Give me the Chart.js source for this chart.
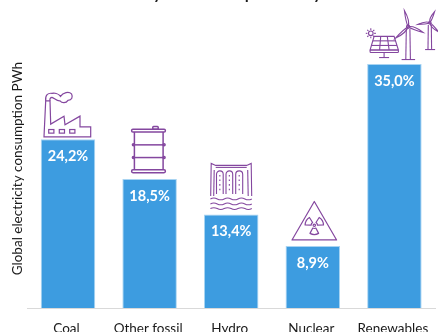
<!DOCTYPE html>
<html><head><meta charset="utf-8">
<style>html,body{margin:0;padding:0;background:#fff}#w{position:relative;width:438px;height:332px}</style>
<script src="https://cdn.jsdelivr.net/npm/chart.js@4"></script>
</head><body><div id="w"><canvas id="c" width="438" height="332"></canvas></div>
<script>
const categories = ["Coal","Other fossil","Hydro","Nuclear","Renewables"];
const shares = [24.2,18.5,13.4,8.9,35.0];
const shareLabels = ["24,2%","18,5%","13,4%","8,9%","35,0%"];
const yAxisTitle = "Global electricity consumption PWh";
const chartTitle = "Electricity consumption by source";

const PURPLE = "#84479f";
function poly(g,pts,close){g.beginPath();pts.forEach((p,i)=>i?g.lineTo(p[0],p[1]):g.moveTo(p[0],p[1]));if(close)g.closePath();g.stroke();}
function rrect(g,x,y,w,h,r){g.beginPath();g.roundRect(x,y,w,h,r);g.stroke();}
function blade(g,hx,hy,tx,ty,w){
  const dx=tx-hx,dy=ty-hy,l=Math.hypot(dx,dy),nx=-dy/l,ny=dx/l;
  const mx=hx+dx*.3,my=hy+dy*.3;
  g.beginPath();g.moveTo(hx,hy);
  g.quadraticCurveTo(mx+nx*w,my+ny*w,tx,ty);
  g.quadraticCurveTo(mx-nx*w*.35,my-ny*w*.35,hx,hy);
  g.stroke();
}
const icons = [
 {x0:68,y0:138.5,draw(g){
   poly(g,[[44,136],[45.7,100],[50,100],[50.7,123.3],[64,115.3],[65,124],[80,115.3],[80,126],[90.7,126],[90.7,136]],true);
   g.beginPath();g.moveTo(45.7,100);
   g.bezierCurveTo(45,94,48,92,52,92.5);g.bezierCurveTo(55,92,59,93,60.5,95.5);
   g.bezierCurveTo(63,91.5,69,90.5,71.5,93);g.bezierCurveTo(73,96,72,99.5,68,99.5);
   g.bezierCurveTo(66,102.5,62,102.5,60,100);g.bezierCurveTo(57,100.5,54,97,52,96.5);
   g.bezierCurveTo(50.5,96.5,49.5,98,50,100);g.stroke();
   [48.7,59.3,69.7].forEach(x=>g.strokeRect(x,128.7,5.2,3.6));
 }},
 {x0:149.5,y0:179.5,draw(g){
   g.lineWidth=1.5;
   rrect(g,131.5,129.8,33.8,2.6,1.3);
   rrect(g,131.5,170.2,33.8,3,1.4);
   rrect(g,152.7,127,5.4,2.8,.8);
   poly(g,[[134.3,132.4],[134.3,170.2]]);poly(g,[[163,132.4],[163,170.2]]);
   [145.3,158].forEach(y=>{poly(g,[[133,y],[164.3,y]]);
     g.beginPath();g.arc(133.3,y,1,0,7);g.stroke();g.beginPath();g.arc(164,y,1,0,7);g.stroke();});
 }},
 {x0:231.5,y0:214.7,draw(g){
   g.lineWidth=1.1;
   poly(g,[[211,196],[211.5,163.5],[216,165.5],[247,165.5],[251.5,163.5],[252,196]]);
   poly(g,[[216,167.5],[247,167.5]]);
   poly(g,[[214,196],[214.5,170]]);poly(g,[[248.5,196],[248,170]]);
   [[216.8,223.5],[226.3,233],[236,243]].forEach(([a,b])=>{
     const r=(b-a)/2;
     g.beginPath();g.moveTo(a,194);g.lineTo(a,171+r);g.arc(a+r,171+r,r,Math.PI,0);g.lineTo(b,194);g.stroke();
     g.save();g.setLineDash([1.6,3]);poly(g,[[a+r,175],[a+r,192]]);g.restore();
   });
   [199,204,208.7].forEach(y=>{
     g.beginPath();g.moveTo(210.7,y);
     for(let x=210.7;x<251;x+=13.8){g.quadraticCurveTo(x+3.4,y-1.8,x+6.9,y);g.quadraticCurveTo(x+10.3,y+1.8,x+13.8,y);}
     g.stroke();
   });
 }},
 {x0:312.5,y0:246,draw(g){
   g.lineJoin="round";
   poly(g,[[314,201.5],[336.3,240],[291.7,240]],true);
   const cx=314,cy=225.3,R=9.2,r=3.2;
   [90,210,330].forEach(d=>{
     const a=(d-28)*Math.PI/180,b=(d+28)*Math.PI/180;
     g.beginPath();g.arc(cx,cy,R,a,b);g.arc(cx,cy,r,b,a,true);g.closePath();g.stroke();
   });
   g.beginPath();g.arc(cx,cy,1.2,0,7);g.stroke();
 }},
 {x0:394.3,y0:64,draw(g){
   g.lineWidth=1.1;
   poly(g,[[374,36.3],[394,36.3],[398.3,50],[370,50]],true);
   rrect(g,370,50,28.3,2.5,.8);
   [[380.6,379.5],[387.2,389]].forEach(([a,b])=>poly(g,[[a,36.3],[b,50]]));
   poly(g,[[372.7,40.8],[395.4,40.8]]);poly(g,[[371.3,45.4],[396.9,45.4]]);
   poly(g,[[384,52.5],[384,57.5]]);poly(g,[[379,57.5],[389,57.5]]);
   g.beginPath();g.arc(370.7,33.3,2.3,0,7);g.stroke();
   for(let i=0;i<8;i++){const a=i*Math.PI/4;poly(g,[[370.7+Math.cos(a)*3.4,33.3+Math.sin(a)*3.4],[370.7+Math.cos(a)*5,33.3+Math.sin(a)*5]]);}
   poly(g,[[406.2,29],[405.7,59.3]]);poly(g,[[409.8,29],[410.3,59.3]]);poly(g,[[401.5,59.5],[415,59.5]]);
   blade(g,408,26.7,404.3,10.5,3.4);blade(g,408,26.7,395.2,38.3,-3.4);blade(g,408,26.7,423,32.3,-3.4);
   g.beginPath();g.arc(408,26.7,1.6,0,7);g.stroke();
   poly(g,[[428.2,25],[427.9,49.3]]);poly(g,[[431.2,25],[431.5,49.3]]);poly(g,[[425,49.5],[435,49.5]]);
   blade(g,429.7,22.7,434.5,11.5,-2.8);blade(g,429.7,22.7,417.5,24.5,2.8);blade(g,429.7,22.7,438.5,32,2.8);
   g.beginPath();g.arc(429.7,22.7,1.3,0,7);g.stroke();
 }}
];
const decor = {
  id:"decor",
  beforeDraw(ch){
    const g=ch.ctx;g.save();
    g.fillStyle="#1a1a1a";g.font='22px Lato';g.textAlign="left";g.textBaseline="alphabetic";
    g.fillText(chartTitle,67.5,-2.5);
    g.restore();
  },
  afterDatasetsDraw(ch){
    const g=ch.ctx,meta=ch.getDatasetMeta(0);
    meta.data.forEach((bar,i)=>{
      g.save();
      g.fillStyle="#fff";g.font='bold 14.5px Lato';g.textAlign="center";g.textBaseline="middle";
      g.fillText(shareLabels[i],bar.x,bar.y+17);
      g.restore();
      const ic=icons[i];
      g.save();g.translate(bar.x-ic.x0,bar.y-ic.y0);
      g.strokeStyle=PURPLE;g.lineWidth=1.2;g.lineJoin="miter";
      ic.draw(g);g.restore();
    });
  }
};
new Chart(document.getElementById("c"),{
  type:"bar",
  data:{labels:categories,datasets:[{data:shares,backgroundColor:"#3d9ce0",borderColor:"#a8d4f2",borderWidth:{top:1,left:1,right:1,bottom:0},borderSkipped:false,barPercentage:.668,categoryPercentage:1}]},
  plugins:[decor],
  options:{
    responsive:false,animation:false,
    layout:{padding:{top:29.2,right:2.8,left:0,bottom:0}},
    plugins:{legend:{display:false},tooltip:{enabled:false}},
    scales:{
      x:{grid:{display:false},border:{color:"#d9d9d9",width:1},
         ticks:{color:"#1a1a1a",font:{family:"Lato",size:13.5},maxRotation:0,padding:5,labelOffset:-1.5},
         afterFit(s){s.height=24;}},
      y:{min:0,max:40,grid:{display:false},border:{display:false},ticks:{display:false},
         title:{display:true,text:yAxisTitle,color:"#1a1a1a",font:{family:"Lato",size:13.5},padding:{top:10,bottom:0}},
         afterFit(s){s.width=27.2;}}
    }
  }
});
</script></body></html>
